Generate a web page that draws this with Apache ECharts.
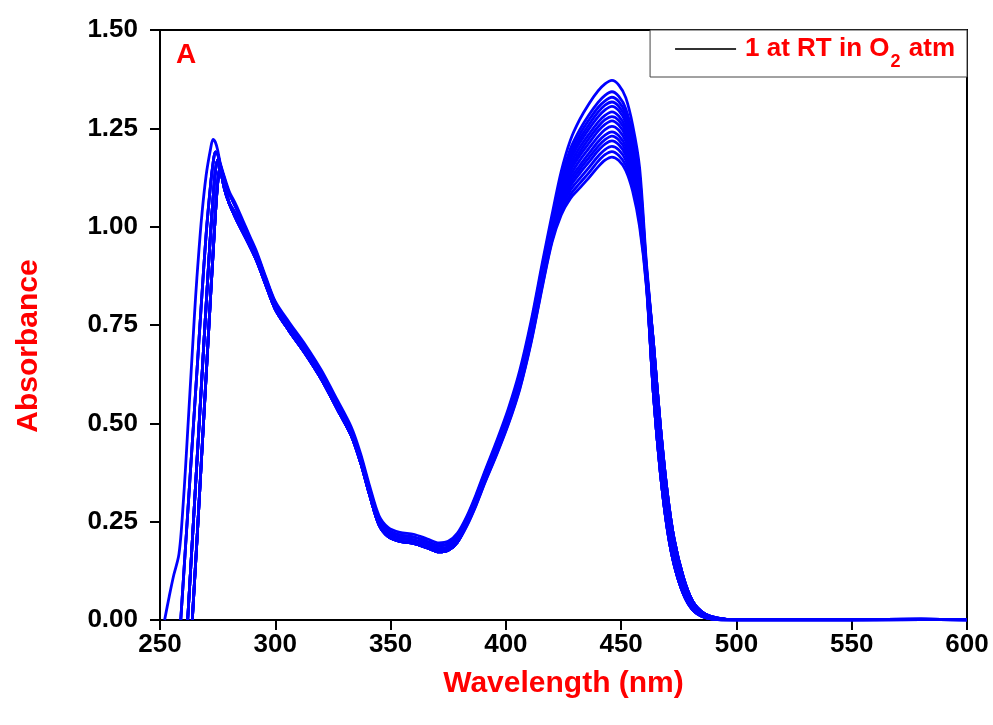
<!DOCTYPE html>
<html>
<head>
<meta charset="utf-8">
<script src="https://cdn.jsdelivr.net/npm/echarts@6/dist/echarts.min.js"></script>
<style>
  html, body { margin: 0; padding: 0; background: #fff; }
  #chart { width: 993px; height: 725px; }
</style>
</head>
<body>
<div id="chart"></div>
<script>
// ---------- axis ticks ----------
const xTicks = [250, 300, 350, 400, 450, 500, 550, 600];
const yTicks = [0, 0.25, 0.5, 0.75, 1.0, 1.25, 1.5];

// ---------- UV / common region (groups of overlapping scans) ----------
const waveUV = [252, 254, 256, 258, 259, 260, 261, 262, 263, 264, 265, 266, 268, 270, 272, 273, 274, 275, 276, 278, 280, 283, 286, 289, 292, 296, 300, 306, 313, 320, 327, 333, 337, 341, 345, 349, 354, 360, 366, 371, 375, 379];
const uvA = [0, .06, .115, .16, .21, .29, .38, .48, .58, .68, .78, .87, 1.02, 1.13, 1.20, 1.222, 1.215, 1.195, 1.165, 1.125, 1.09, 1.055, 1.015, .975, .935, .87, .81, .757, .70, .635, .558, .49, .423, .339, .265, .235, .223, .218, .206, .196, .200, .221];
const uvB = [null, null, null, null, 0, .09, .18, .27, .36, .45, .54, .63, .81, .98, 1.11, 1.16, 1.19, 1.185, 1.16, 1.12, 1.085, 1.048, 1.01, .97, .93, .866, .806, .751, .693, .628, .551, .483, .416, .332, .258, .228, .216, .211, .199, .189, .193, .214];
const uvC = [null, null, null, null, null, null, null, 0, .10, .20, .30, .40, .60, .80, .99, 1.07, 1.14, 1.17, 1.15, 1.095, 1.06, 1.03, .995, .962, .925, .86, .798, .743, .685, .620, .543, .476, .408, .324, .250, .220, .208, .203, .191, .181, .185, .206];
const uvD = [null, null, null, null, null, null, null, null, null, 0, .10, .20, .41, .62, .83, .93, 1.03, 1.11, 1.15, 1.105, 1.06, 1.02, .985, .95, .912, .85, .79, .735, .677, .612, .535, .468, .400, .316, .242, .212, .200, .195, .183, .173, .177, .198];

// ---------- visible band (one array per scan) ----------
const waveBand = [383, 387, 391, 396, 401, 406, 411, 416, 420, 424, 428, 432, 436, 440, 443, 446, 449, 452, 455, 458, 461];
const band01 = [.263, .318, .380, .455, .536, .634, .762, .914, 1.030, 1.140, 1.220, 1.272, 1.312, 1.345, 1.363, 1.372, 1.360, 1.328, 1.258, 1.150, .905];
const band02 = [.259, .314, .376, .450, .530, .627, .754, .905, 1.020, 1.124, 1.198, 1.246, 1.284, 1.316, 1.334, 1.343, 1.331, 1.300, 1.233, 1.128, .896];
const band03 = [.258, .312, .373, .447, .527, .623, .750, .900, 1.015, 1.116, 1.187, 1.234, 1.271, 1.303, 1.320, 1.329, 1.318, 1.287, 1.221, 1.117, .892];
const band04 = [.256, .310, .372, .445, .525, .621, .746, .897, 1.010, 1.109, 1.179, 1.223, 1.259, 1.291, 1.309, 1.317, 1.306, 1.276, 1.211, 1.108, .888];
const band05 = [.255, .309, .370, .443, .522, .618, .743, .893, 1.006, 1.103, 1.170, 1.213, 1.248, 1.279, 1.297, 1.306, 1.295, 1.265, 1.201, 1.099, .885];
const band06 = [.253, .307, .368, .441, .520, .614, .739, .889, 1.001, 1.095, 1.159, 1.201, 1.235, 1.266, 1.283, 1.292, 1.281, 1.252, 1.189, 1.089, .880];
const band07 = [.251, .305, .366, .439, .517, .611, .736, .885, .997, 1.088, 1.150, 1.190, 1.224, 1.254, 1.272, 1.280, 1.270, 1.241, 1.179, 1.080, .877];
const band08 = [.250, .303, .364, .437, .515, .609, .732, .881, .993, 1.082, 1.142, 1.180, 1.212, 1.243, 1.260, 1.269, 1.258, 1.230, 1.169, 1.071, .873];
const band09 = [.248, .301, .362, .434, .512, .605, .728, .877, .988, 1.074, 1.131, 1.168, 1.199, 1.229, 1.247, 1.255, 1.245, 1.217, 1.157, 1.060, .869];
const band10 = [.246, .299, .360, .432, .509, .602, .725, .873, .983, 1.066, 1.121, 1.155, 1.186, 1.216, 1.233, 1.241, 1.231, 1.204, 1.145, 1.050, .865];
const band11 = [.245, .298, .358, .430, .507, .599, .721, .869, .979, 1.060, 1.112, 1.145, 1.175, 1.204, 1.221, 1.230, 1.220, 1.193, 1.135, 1.041, .861];
const band12 = [.243, .296, .356, .427, .504, .596, .718, .865, .975, 1.053, 1.103, 1.135, 1.164, 1.193, 1.210, 1.218, 1.208, 1.182, 1.125, 1.032, .858];
const band13 = [.242, .294, .354, .425, .502, .593, .714, .861, .970, 1.045, 1.093, 1.122, 1.150, 1.179, 1.196, 1.204, 1.195, 1.169, 1.114, 1.021, .853];
const band14 = [.240, .292, .352, .423, .499, .589, .710, .856, .965, 1.038, 1.082, 1.110, 1.137, 1.166, 1.183, 1.191, 1.181, 1.156, 1.102, 1.011, .849];
const band15 = [.238, .290, .350, .420, .496, .586, .706, .852, .960, 1.030, 1.072, 1.098, 1.124, 1.152, 1.169, 1.177, 1.168, 1.143, 1.090, 1.000, .845];

// ---------- long-wavelength tail ----------
const waveTail = [464, 467, 470, 473, 477, 481, 486, 492, 500, 520, 550, 580, 600];
const tailHi  = [.705, .495, .325, .205, .108, .048, .017, .005, .001, .001, .001, .002, .001];
const tailMid = [.640, .435, .280, .172, .086, .036, .011, .003, .001, .001, .001, .001, .001];
const tailLo  = [.575, .375, .232, .140, .066, .026, .007, .001, .000, .000, .000, .001, .000];

// which common-region / tail curve each scan follows
const uvGroupOf   = ['A', 'B', 'B', 'B', 'C', 'C', 'C', 'C', 'C', 'D', 'D', 'D', 'D', 'D', 'D'];
const tailGroupOf = ['Hi', 'Hi', 'Hi', 'Hi', 'Hi', 'Mid', 'Mid', 'Mid', 'Mid', 'Mid', 'Lo', 'Lo', 'Lo', 'Lo', 'Lo'];

const legendName = '1 at RT in O2 atm';

// ---------- build ----------
const uvGroups = { A: uvA, B: uvB, C: uvC, D: uvD };
const tailGroups = { Hi: tailHi, Mid: tailMid, Lo: tailLo };
const bands = [band01, band02, band03, band04, band05, band06, band07, band08, band09, band10, band11, band12, band13, band14, band15];

const RED = '#ff0000';
const FONT = "'Liberation Sans', Arial, sans-serif";

const series = bands.map((band, k) => {
  const pts = [];
  const uv = uvGroups[uvGroupOf[k]];
  waveUV.forEach((w, i) => { if (uv[i] !== null) pts.push([w, uv[i]]); });
  waveBand.forEach((w, i) => pts.push([w, band[i]]));
  const tail = tailGroups[tailGroupOf[k]];
  waveTail.forEach((w, i) => pts.push([w, tail[i]]));
  return {
    name: 'scan ' + (k + 1),
    type: 'line',
    data: pts,
    showSymbol: false,
    smooth: 0.3,
    silent: true,
    color: '#0000ff',
    lineStyle: { color: '#0000ff', width: 2.8 },
    z: 3
  };
});

series.push({
  name: legendName,
  type: 'line',
  data: [],
  color: '#333333',
  itemStyle: { color: '#333333' },
  lineStyle: { color: '#333333', width: 2 }
});

const chart = echarts.init(document.getElementById('chart'), null, { renderer: 'canvas' });
chart.setOption({
  animation: false,
  backgroundColor: '#ffffff',
  grid: {
    left: 160, right: 26, top: 30, bottom: 105,
    show: true, borderColor: '#000', borderWidth: 2, backgroundColor: 'transparent'
  },
  legend: {
    data: [legendName],
    right: 26, top: 30,
    padding: [6, 12, 6, 25],
    itemWidth: 61, itemHeight: 2,
    icon: 'rect',
    borderColor: '#444', borderWidth: 1,
    backgroundColor: '#fff',
    selectedMode: false,
    formatter: () => '{t|1 at RT in O}{s|2}{t| atm}',
    textStyle: {
      padding: [0, 0, 0, 4],
      rich: {
        t: { fontSize: 26, fontWeight: 'bold', color: RED, fontFamily: FONT, lineHeight: 26, verticalAlign: 'top' },
        s: { fontSize: 18, fontWeight: 'bold', color: RED, fontFamily: FONT, lineHeight: 18, verticalAlign: 'top', padding: [17, 1, 0, 1] }
      }
    }
  },
  xAxis: {
    type: 'value',
    min: xTicks[0], max: xTicks[xTicks.length - 1], interval: 50,
    name: 'Wavelength (nm)',
    nameLocation: 'middle', nameGap: 49,
    nameTextStyle: { color: RED, fontSize: 30, fontWeight: 'bold', fontFamily: FONT },
    axisLine: { show: true, onZero: false, lineStyle: { color: '#000', width: 2 } },
    axisTick: { show: true, inside: false, length: 10, lineStyle: { color: '#000', width: 2 } },
    axisLabel: { color: '#000', fontSize: 26, fontWeight: 'bold', fontFamily: FONT, margin: 12 },
    splitLine: { show: false }
  },
  yAxis: {
    type: 'value',
    min: yTicks[0], max: yTicks[yTicks.length - 1], interval: 0.25,
    name: 'Absorbance',
    nameLocation: 'middle', nameGap: 116,
    nameTextStyle: { color: RED, fontSize: 30, fontWeight: 'bold', fontFamily: FONT, padding: [0, 42, 0, 0] },
    axisLine: { show: true, onZero: false, lineStyle: { color: '#000', width: 2 } },
    axisTick: { show: true, inside: false, length: 10, lineStyle: { color: '#000', width: 2 } },
    axisLabel: { color: '#000', fontSize: 26, fontWeight: 'bold', fontFamily: FONT, margin: 22,
      formatter: v => v.toFixed(2) },
    splitLine: { show: false }
  },
  graphic: [{
    type: 'text', left: 176, top: 41, z: 10,
    style: { text: 'A', fill: RED, fontSize: 28, fontWeight: 'bold', fontFamily: FONT }
  }],
  series: series
});
</script>
</body>
</html>
